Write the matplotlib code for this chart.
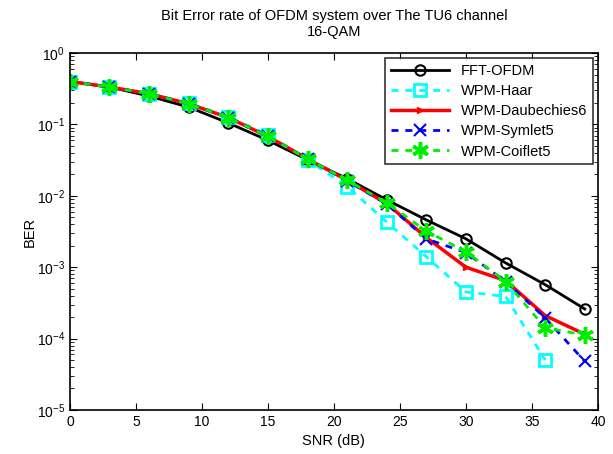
import matplotlib
matplotlib.use("Agg")
import matplotlib.pyplot as plt
import numpy as np

plt.rcParams['font.family'] = ['Liberation Sans', 'DejaVu Sans']
plt.rcParams['mathtext.fontset'] = 'custom'
plt.rcParams['mathtext.rm'] = 'Liberation Sans'

snr = [0, 3, 6, 9, 12, 15, 18, 21, 24, 27, 30, 33, 36, 39]
snr_haar = [0, 3, 6, 9, 12, 15, 18, 21, 24, 27, 30, 33, 36]

fft_ofdm = [0.40, 0.335, 0.25, 0.175, 0.105, 0.060, 0.032, 0.0174, 0.0088, 0.0046, 0.0025, 0.00115, 0.00057, 0.00026]
wpm_haar = [0.40, 0.335, 0.27, 0.20, 0.128, 0.072, 0.032, 0.0135, 0.0043, 0.0014, 0.00045, 0.00039, 0.00005]
wpm_db6 = [0.40, 0.335, 0.27, 0.195, 0.125, 0.068, 0.033, 0.0165, 0.0078, 0.0026, 0.0010, 0.00065, 0.00021, 0.000115]
wpm_sym5 = [0.40, 0.335, 0.27, 0.195, 0.125, 0.068, 0.033, 0.0162, 0.0077, 0.0025, 0.0016, 0.00063, 0.000195, 0.000048]
wpm_coif5 = [0.40, 0.335, 0.27, 0.195, 0.125, 0.068, 0.033, 0.0165, 0.0080, 0.0032, 0.00165, 0.00063, 0.000142, 0.000112]

fig = plt.figure(figsize=(6.13, 4.54), dpi=100)
ax = fig.add_axes([0.114, 0.097, 0.8615, 0.786])

asterisk = (6, 2, 0)

ax.semilogy(snr, fft_ofdm, color='black', linestyle='-', linewidth=2, marker='o',
            markersize=7.5, markerfacecolor='none', markeredgewidth=1.5, label='FFT-OFDM')
ax.semilogy(snr_haar, wpm_haar, color='cyan', linestyle='--', linewidth=2, marker='s',
            markersize=8, markerfacecolor='none', markeredgewidth=2, label='WPM-Haar',
            dashes=(2.5, 2.5))
ax.semilogy(snr, wpm_db6, color='red', linestyle='-', linewidth=2.5, marker='>',
            markersize=5, markerfacecolor='red', label='WPM-Daubechies6')
ax.semilogy(snr, wpm_sym5, color='blue', linestyle='--', linewidth=2, marker='x',
            markersize=8, markeredgewidth=1.5, label='WPM-Symlet5', dashes=(2.5, 2.5))
ax.semilogy(snr, wpm_coif5, color='#00ee00', linestyle='--', linewidth=2, marker=asterisk,
            markersize=12, markeredgewidth=2.5, label='WPM-Coiflet5', dashes=(2.5, 2.5))

ax.set_xlim(0, 40)
ax.set_ylim(1e-5, 1)
ax.set_xticks(np.arange(0, 41, 5))
ax.tick_params(which='both', direction='in', top=True, right=True, labelsize=10)
ax.tick_params(which='major', length=5)
ax.tick_params(which='minor', length=3)
for s in ax.spines.values():
    s.set_linewidth(1.2)

ax.set_xlabel('SNR (dB)', fontsize=10.5)
ax.set_ylabel('BER', fontsize=10.5, labelpad=0)
ax.set_title('Bit Error rate of OFDM system over The TU6 channel\n16-QAM', fontsize=10.5, pad=12)

leg = ax.legend(loc='upper right', fontsize=10.5, frameon=True, fancybox=False,
                edgecolor='black', handlelength=4, borderaxespad=0.35,
                labelspacing=0.42)
leg.get_frame().set_linewidth(1.2)

fig.savefig('out.png', dpi=100)
